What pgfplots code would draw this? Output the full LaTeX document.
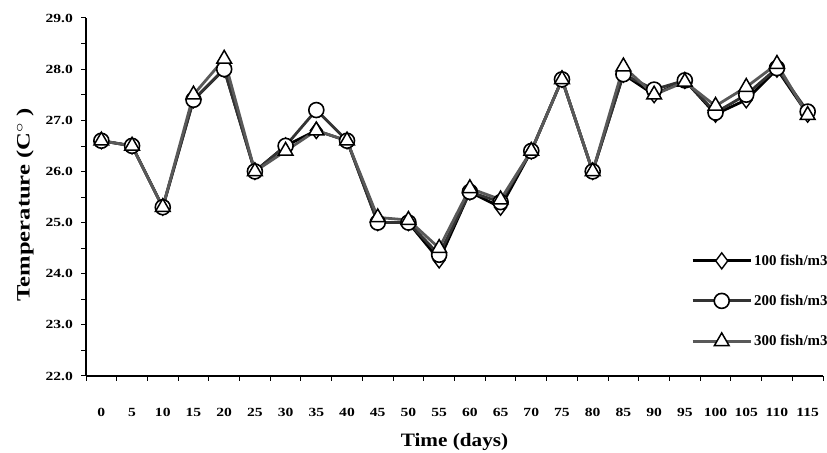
\documentclass[border=0pt]{standalone}
\usepackage{graphicx}
\usepackage{fontspec}
\setmainfont{Liberation Serif}
\usepackage{pgfplots}
\pgfplotsset{compat=1.18}
\usepackage{pgfplotstable}

\pgfplotstableread{
x  a     b     c
0  26.6  26.6  26.6
1  26.5  26.5  26.5
2  25.3  25.3  25.3
3  27.4  27.4  27.5
4  28.0  28.0  28.2
5  26.0  26.0  26.0
6  26.5  26.5  26.4
7  26.8  27.2  26.8
8  26.6  26.6  26.6
9  25.0  25.0  25.1
10 25.0  25.0  25.05
11 24.27 24.37 24.5
12 25.6  25.6  25.67
13 25.3  25.4  25.45
14 26.4  26.4  26.4
15 27.8  27.8  27.8
16 26.0  26.0  26.0
17 27.9  27.9  28.05
18 27.5  27.6  27.5
19 27.78 27.78 27.75
20 27.12 27.15 27.28
21 27.4  27.5  27.65
22 28.0  28.02 28.1
23 27.12 27.17 27.1
}\datatable

\begin{document}
\begin{tikzpicture}[x=1bp,y=1bp]
\useasboundingbox (0,0) rectangle (827,453);
\begin{axis}[
  at={(86bp,77bp)}, anchor=south west,
  scale only axis,
  width=737bp, height=358bp,
  xmin=-0.5, xmax=23.5,
  ymin=22, ymax=29,
  axis x line*=bottom, axis y line*=left,
  axis line style={line width=1.2bp, -},
  tick align=outside,
  xtick={0,...,23},
  xticklabels={0,5,10,15,20,25,30,35,40,45,50,55,60,65,70,75,80,85,90,95,100,105,110,115},
  major x tick style={draw=none},
  minor xtick={-0.5,0.5,...,23.5},
  minor tick length=5bp,
  major tick length=5bp,
  tick style={black, line width=1bp},
  ytick={22,23,...,29},
  minor y tick num=1,
  minor y tick style={line width=0.6bp},
  yticklabel style={/pgf/number format/fixed, /pgf/number format/fixed zerofill, /pgf/number format/precision=1},
  /pgf/number format/assume math mode=true,
  ticklabel style={font=\bfseries\fontsize{12.5}{14}\selectfont, xscale=1.25},
  xticklabel style={anchor=base, yshift=-36bp},
  yticklabel style={xshift=-3bp},
  xlabel={\scalebox{1.12}[1]{Time (days)}},
  xlabel style={at={(rel axis cs:0.5,0)}, anchor=base, yshift=-71bp, font=\bfseries\fontsize{19}{22}\selectfont},
  ylabel={\scalebox{1.3}[1]{Temperature (C$^{\circ}$ )}},
  ylabel style={at={(axis description cs:-0.0828,0.478)}, anchor=center, font=\bfseries\fontsize{19}{22}\selectfont},
  legend style={draw=none, fill=none, at={(rel axis cs:0.817,0.35)}, anchor=north west,
    font=\bfseries\fontsize{15}{17}\selectfont, row sep=24bp,
    /tikz/every even column/.append style={column sep=1bp}},
  legend cell align=left,
  legend image code/.code={\draw[mark repeat=2,mark phase=2,#1] plot coordinates {(0bp,0bp) (29bp,0bp) (58bp,0bp)};},
]
\addplot[black, line width=2.8bp, mark=diamond*, mark size=8bp, mark options={fill=white, draw=black, line width=1.4bp, solid}] table[x=x,y=a]{\datatable};
\addlegendentry{100 fish/m3}
\addplot[black!80, line width=2.8bp, mark=*, mark size=7.5bp, mark options={fill=white, draw=black, line width=1.6bp, solid}] table[x=x,y=b]{\datatable};
\addlegendentry{200 fish/m3}
\addplot[black!65, line width=2.8bp, mark=triangle*, mark size=8.5bp, mark options={fill=white, draw=black, line width=1.5bp, solid}] table[x=x,y=c]{\datatable};
\addlegendentry{300 fish/m3}
\end{axis}
\end{tikzpicture}
\end{document}
